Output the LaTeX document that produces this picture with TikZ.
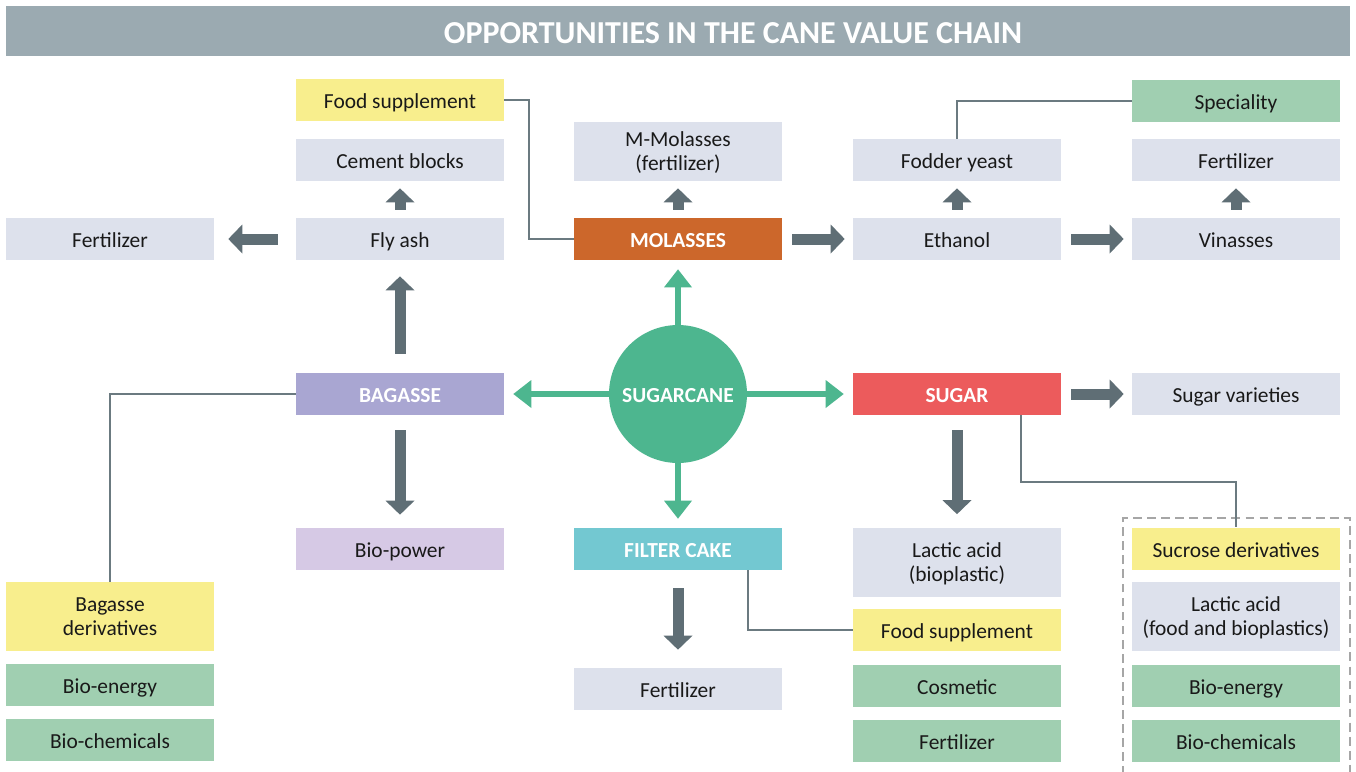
\documentclass[tikz,border=0pt]{standalone}
\usepackage{fontspec}
\setmainfont{Carlito}
\usetikzlibrary{arrows.meta}
\definecolor{barcol}{HTML}{9BAAB1}
\definecolor{greycol}{HTML}{DDE1EC}
\definecolor{yellowcol}{HTML}{F8EE8D}
\definecolor{greencol}{HTML}{A0CFB1}
\definecolor{molcol}{HTML}{CC672B}
\definecolor{bagcol}{HTML}{A9A6D2}
\definecolor{sugcol}{HTML}{EC5B5C}
\definecolor{powcol}{HTML}{D6C9E5}
\definecolor{filtcol}{HTML}{73C8D1}
\definecolor{canecol}{HTML}{4DB68F}
\definecolor{arrowcol}{HTML}{5F6E75}
\definecolor{linecol}{HTML}{6B7A80}
\tikzset{
	box/.style={rectangle, minimum width=4.16cm, minimum height=0.84cm, inner sep=0pt, align=center, text=black!90, text height=11.6pt, text depth=1.6pt, font=\fontsize{12.2}{13.8}\selectfont},
	tall/.style={minimum height=1.38cm, text height=25pt, text depth=3pt},
	grey/.style={box, fill=greycol},
	yellow/.style={box, fill=yellowcol},
	green/.style={box, fill=greencol},
	main/.style={box, text=white, font=\fontsize{12.2}{13.8}\selectfont\bfseries},
	flow/.style={draw=arrowcol, line width=0.22cm, -{Triangle[length=0.28cm, width=0.58cm, line width=0pt]}, shorten <=0.2cm, shorten >=0.16cm},
	sprout/.style={draw=canecol, line width=0.12cm, -{Triangle[length=0.36cm, width=0.56cm, line width=0pt]}, shorten >=0.18cm},
	link/.style={draw=linecol, line width=1pt}
}
\begin{document}
\begin{tikzpicture}[x=0.02cm, y=-0.02cm]
			%%%%% START %%%%%
			
			\useasboundingbox[fill=white] (0, 0) rectangle (1356, 771);
			\fill[barcol] (6, 6) rectangle (1350, 56);
			\node[text=white, text height=14pt, text depth=1pt, font=\fontsize{18.2}{20}\selectfont\bfseries] (title) at (733, 32) {OPPORTUNITIES IN THE CANE VALUE CHAIN};
			
			\node[yellow] (foodA) at (400, 100) {Food supplement};
			\node[grey] (cement) at (400, 160) {Cement blocks};
			\node[grey] (flyash) at (400, 239) {Fly ash};
			\node[grey] (fertA) at (110, 239) {Fertilizer};
			
			\node[grey, tall, minimum height=1.18cm] (mmol) at (678, 151.5) {M-Molasses\\(fertilizer)};
			\node[main, fill=molcol] (molasses) at (678, 239) {MOLASSES};
			
			\node[grey] (fodder) at (957, 160) {Fodder yeast};
			\node[grey] (ethanol) at (957, 239) {Ethanol};
			\node[green] (special) at (1236, 101) {Speciality};
			\node[grey] (fertB) at (1236, 160) {Fertilizer};
			\node[grey] (vinasses) at (1236, 239) {Vinasses};
			
			\node[main, fill=bagcol] (bagasse) at (400, 394) {BAGASSE};
			\node[circle, minimum size=2.76cm, inner sep=0pt, fill=canecol, text=white, text height=11.6pt, text depth=1.6pt, font=\fontsize{12.2}{13.8}\selectfont\bfseries] (cane) at (678, 394) {SUGARCANE};
			\node[main, fill=sugcol] (sugar) at (957, 394) {SUGAR};
			\node[grey] (varieties) at (1236, 394) {Sugar varieties};
			
			\node[box, fill=powcol] (biopower) at (400, 549) {Bio-power};
			\node[main, fill=filtcol] (filter) at (678, 549) {FILTER CAKE};
			\node[grey] (fertC) at (678, 689) {Fertilizer};
			
			\node[grey, tall] (lacticA) at (957, 562) {Lactic acid\\(bioplastic)};
			\node[yellow] (foodB) at (957, 630) {Food supplement};
			\node[green] (cosmetic) at (957, 686) {Cosmetic};
			\node[green] (fertD) at (957, 741) {Fertilizer};
			
			\node[yellow] (sucrose) at (1236, 548.5) {Sucrose derivatives};
			\node[grey, tall] (lacticB) at (1236, 616.5) {Lactic acid\\(food and bioplastics)};
			\node[green] (bioenB) at (1236, 686) {Bio-energy};
			\node[green] (biochemB) at (1236, 741) {Bio-chemicals};
			\draw[gray!70, line width=0.8pt, dash pattern=on 5pt off 3pt] (1123, 775) -- (1123, 518) -- (1350, 518) -- (1350, 775);
			
			\node[yellow, tall] (bagder) at (110, 616.5) {Bagasse\\derivatives};
			\node[green] (bioenA) at (110, 685) {Bio-energy};
			\node[green] (biochemA) at (110, 740) {Bio-chemicals};
			
			\draw[sprout] (cane) -- (molasses);
			\draw[sprout] (cane) -- (bagasse);
			\draw[sprout] (cane) -- (sugar);
			\draw[sprout] (cane) -- (filter);
			
			\draw[flow, shorten <=0.36cm, shorten >=0.28cm] (flyash) -- (fertA);
			\draw[flow, shorten <=0.16cm, shorten >=0.14cm] (flyash) -- (cement);
			\draw[flow, shorten <=0.16cm, shorten >=0.14cm] (molasses) -- (mmol);
			\draw[flow] (molasses) -- (ethanol);
			\draw[flow, shorten <=0.16cm, shorten >=0.14cm] (ethanol) -- (fodder);
			\draw[flow] (ethanol) -- (vinasses);
			\draw[flow, shorten <=0.16cm, shorten >=0.14cm] (vinasses) -- (fertB);
			\draw[flow, shorten <=0.38cm, shorten >=0.32cm] (bagasse) -- (flyash);
			\draw[flow, shorten <=0.3cm, shorten >=0.26cm] (bagasse) -- (biopower);
			\draw[flow] (sugar) -- (varieties);
			\draw[flow, shorten <=0.3cm, shorten >=0.26cm] (sugar) -- (lacticA);
			\draw[flow, shorten <=0.36cm, shorten >=0.36cm] (filter) -- (fertC);
			
			\draw[link] (foodA.east) -- ++(25, 0) |- (molasses.west);
			\draw[link] (fodder.north) |- (special.west);
			\draw[link] ([xshift=1.28cm]sugar.south) -- ++(0, 67) -| (sucrose.north);
			\draw[link] (bagasse.west) -| (bagder.north);
			\draw[link] ([xshift=1.4cm]filter.south) |- (foodB.west);
			
			%%%%% END %%%%%
\end{tikzpicture}
\end{document}
